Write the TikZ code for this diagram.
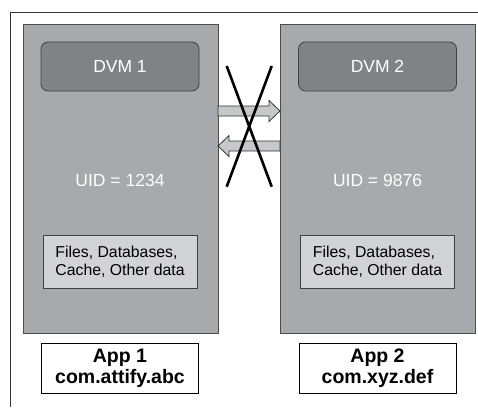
\documentclass[tikz,border=0pt]{standalone}
\usepackage{fontspec}
\setmainfont{Liberation Sans}
\begin{document}
\begin{tikzpicture}[x=1pt,y=-1pt,
  appbox/.style={draw=black!70, fill=boxgray, line width=0.8pt, inner sep=0pt, outer sep=0pt, minimum width=195pt, minimum height=309pt},
  dvmbox/.style={draw=black!75, fill=dvmgray, rounded corners=7pt, line width=0.8pt, inner sep=0pt, minimum width=158pt, minimum height=49pt, text=white, font=\fontsize{17.5}{20}\selectfont},
  uidtext/.style={text=white, font=\fontsize{17.5}{20}\selectfont, inner sep=0pt},
  databox/.style={draw=black!75, fill=datagray, line width=0.8pt, inner sep=0pt, minimum width=154pt, minimum height=53pt, align=left, font=\fontsize{15.8}{18}\selectfont},
  namebox/.style={draw=black, fill=white, line width=0.8pt, inner sep=0pt, minimum width=157pt, minimum height=50pt, align=center, font=\bfseries\fontsize{19.5}{21}\selectfont},
  flowarrow/.style={draw=black!80, fill=arrowgray, line width=0.8pt, line join=miter},
  cross/.style={draw=black, line width=2.6pt}
]
\definecolor{boxgray}{HTML}{A7A9AC}
\definecolor{dvmgray}{HTML}{808285}
\definecolor{datagray}{HTML}{D1D3D4}
\definecolor{arrowgray}{HTML}{C7C8CA}
\useasboundingbox (0,0) rectangle (478,407);
% outer frame (partial)
\draw[black!80, line width=1pt] (10,407) -- (10,12) -- (478,12);
% app containers
\node[appbox] (c1) at (120.5,178.5) {};
\node[appbox] (c2) at (377.5,178.5) {};
% DVMs
\node[dvmbox] (d1) at (120,66.5) {DVM 1};
\node[dvmbox] (d2) at (377.5,66.5) {DVM 2};
% UIDs
\node[uidtext] (u1) at (120,180) {UID = 1234};
\node[uidtext] (u2) at (377.5,180) {UID = 9876};
% data
\node[databox] (f1) at (120,261.5) {Files, Databases,\\Cache, Other data};
\node[databox] (f2) at (377.5,261.5) {Files, Databases,\\Cache, Other data};
% names
\node[namebox] (n1) at (120,368) {App 1\\com.attify.abc};
\node[namebox] (n2) at (377.5,368) {App 2\\com.xyz.def};
% arrows
\draw[flowarrow] (c1.east |- 0,106) -- (269,106) -- (269,100.5) -- (c2.west |- 0,111) -- (269,121.5) -- (269,116) -- (c1.east |- 0,116) -- cycle;
\draw[flowarrow] (c2.west |- 0,141) -- (229,141) -- (229,135.5) -- (c1.east |- 0,146) -- (229,156.5) -- (229,151) -- (c2.west |- 0,151) -- cycle;
% cross
\coordinate (x1) at (226.7,66);
\coordinate (x2) at (271.7,186.7);
\coordinate (x3) at (271.7,66);
\coordinate (x4) at (226.7,186.7);
\draw[cross] (x1) -- (x2);
\draw[cross] (x3) -- (x4);
\end{tikzpicture}
\end{document}
